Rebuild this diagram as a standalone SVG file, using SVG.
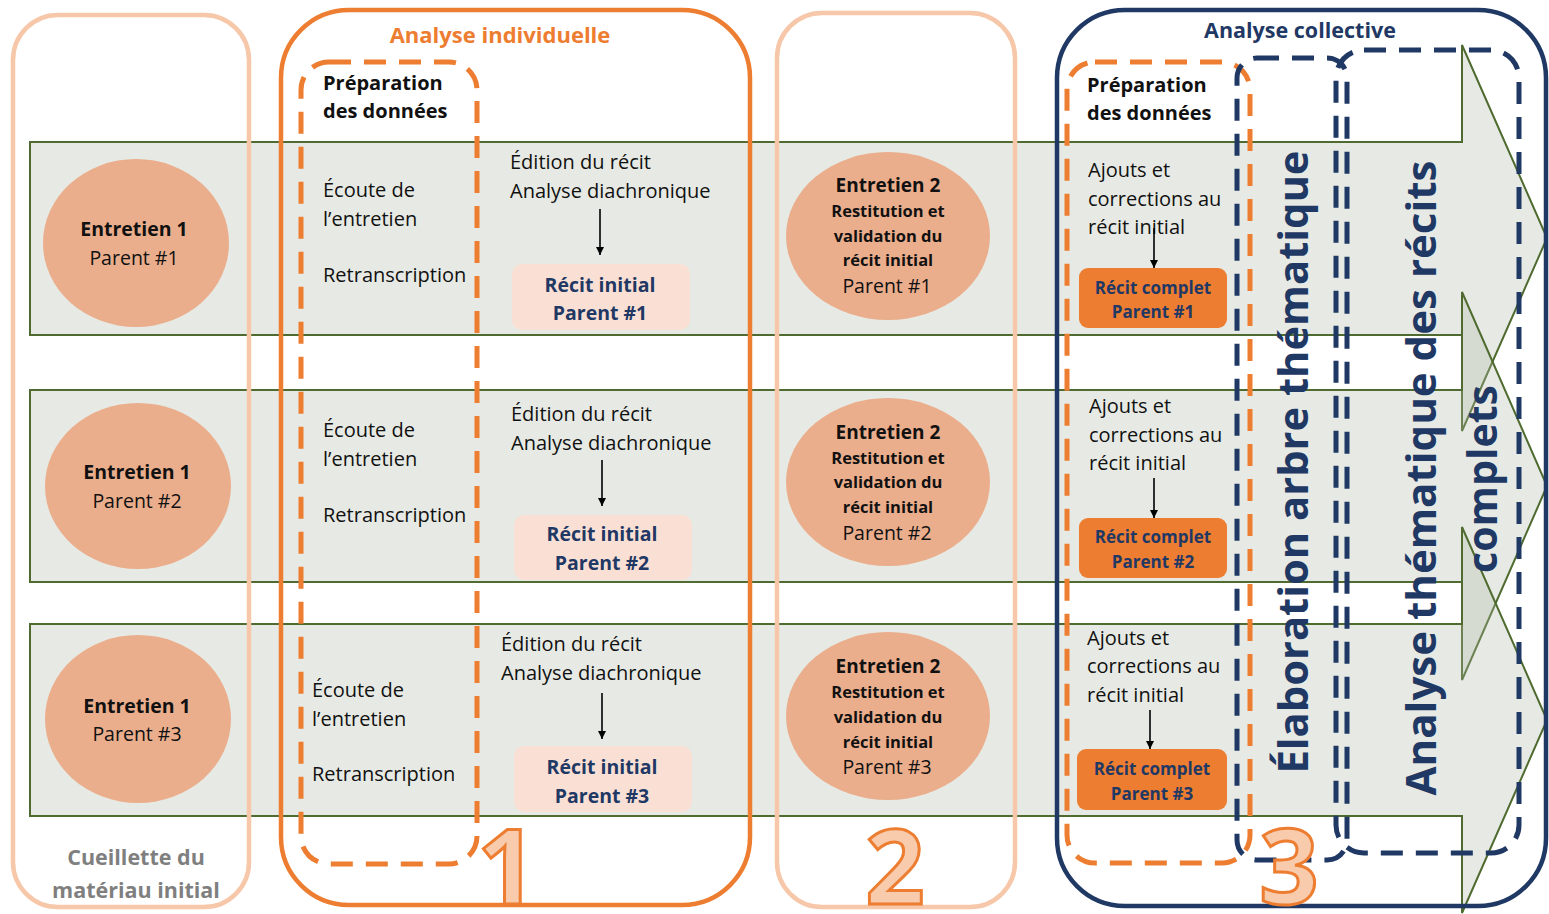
<svg xmlns="http://www.w3.org/2000/svg" width="1549" height="914" viewBox="0 0 1549 914">
<style>
text{font-family:"Open Sans","Liberation Sans",sans-serif}
.band{fill:#b0b8a5;fill-opacity:0.3;stroke:#4f6b30;stroke-width:2}
.colp{fill:none;stroke:#f7c7a9;stroke-width:4.5}
.colo{fill:none;stroke:#ed7d31;stroke-width:4.5}
.coln{fill:none;stroke:#1f3864;stroke-width:4.5}
.dasho{fill:none;stroke:#ed7d31;stroke-width:5;stroke-dasharray:22 13}
.dashn{fill:none;stroke:#1f3864;stroke-width:5;stroke-dasharray:22 13}
.ell{fill:#ebae8c}
.t{font-size:20px;fill:#111}
.b{font-weight:bold}
.e1{font-size:19.5px;text-anchor:middle;fill:#111}
.e2h{font-size:19px;font-weight:bold;text-anchor:middle;fill:#111}
.e2s{font-size:16.5px;font-weight:bold;text-anchor:middle;fill:#111}
.ri{fill:#fae0d4}
.rit{font-size:19.5px;font-weight:bold;text-anchor:middle;fill:#1f3864}
.rc{fill:#ed7d31}
.rct{font-size:17px;font-weight:bold;text-anchor:middle;fill:#1f3864}
.arr{stroke:#000;stroke-width:1.6;marker-end:url(#ah)}
.num{font-size:104px;font-weight:bold;fill:#f8cbad;stroke:#ed7d31;stroke-width:3;text-anchor:middle}
.vt{font-weight:bold;fill:#1f3864;text-anchor:middle}
</style>
<defs>
<marker id="ah" markerWidth="10" markerHeight="10" refX="8" refY="4" orient="auto" markerUnits="userSpaceOnUse">
<path d="M0,0 L8,4 L0,8 z" fill="#000"/>
</marker>
</defs>

<g id="bands">
<path class="band" d="M30,142 H1462 V45 L1547,238 L1462,431 V335 H30 Z"/>
<path class="band" d="M30,390 H1462 V292 L1547,486 L1462,680 V582 H30 Z"/>
<path class="band" d="M30,624 H1462 V527 L1547,720 L1462,913 V816 H30 Z"/>
</g>

<g id="col0">
<rect class="colp" x="13" y="15" width="236" height="892" rx="45"/>
<text class="b" x="136" y="865" font-size="21.5" fill="#7f7f7f" text-anchor="middle">Cueillette du</text>
<text class="b" x="136" y="898" font-size="21.5" fill="#7f7f7f" text-anchor="middle">matériau initial</text>
</g>

<g id="col1">
<rect class="colo" x="281" y="10" width="469" height="895" rx="68"/>
<text class="b" x="500" y="43" font-size="22" fill="#ed7d31" text-anchor="middle">Analyse individuelle</text>
<rect class="dasho" x="301" y="62" width="176" height="802" rx="28"/>
<text class="t b" x="323" y="90" font-size="19.5">Préparation</text>
<text class="t b" x="323" y="118" font-size="19.5">des données</text>
</g>

<g id="col2">
<rect class="colp" x="777" y="13" width="238" height="894" rx="45"/>
</g>

<g id="col3">
<rect class="coln" x="1057" y="10" width="489" height="896" rx="68"/>
<text class="b" x="1300" y="38" font-size="21.5" fill="#1f3864" text-anchor="middle">Analyse collective</text>
<rect class="dasho" x="1067" y="62" width="183" height="801" rx="28"/>
<rect class="dashn" x="1237" y="58" width="110" height="802" rx="20"/>
<rect class="dashn" x="1336" y="50" width="183" height="803" rx="28"/>
<text class="t b" x="1087" y="92" font-size="19.5">Préparation</text>
<text class="t b" x="1087" y="120" font-size="19.5">des données</text>
</g>

<g id="nums">
<text class="num" x="507" y="904">1</text>
<text class="num" x="895" y="904">2</text>
<text class="num" x="1289" y="904">3</text>
</g>

<!-- Row 1 -->
<g id="e1p1">
<ellipse class="ell" cx="136" cy="243" rx="93" ry="84"/>
<text class="e1 b" x="134" y="236">Entretien 1</text>
<text class="e1" x="134" y="265">Parent #1</text>
</g>
<g id="prep1">
<text class="t" x="323" y="197">Écoute de</text>
<text class="t" x="323" y="226">l’entretien</text>
<text class="t" x="323" y="282">Retranscription</text>
</g>
<g id="edit1">
<text class="t" x="510" y="169">Édition du récit</text>
<text class="t" x="510" y="198">Analyse diachronique</text>
</g>
<g id="ri1">
<rect class="ri" x="512" y="264" width="178" height="66" rx="10"/>
<text class="rit" x="600" y="292">Récit initial</text>
<text class="rit" x="600" y="320">Parent #1</text>
</g>
<g id="e2p1">
<ellipse class="ell" cx="888" cy="236" rx="102" ry="84"/>
<text class="e2h" x="888" y="192">Entretien 2</text>
<text class="e2s" x="888" y="217">Restitution et</text>
<text class="e2s" x="888" y="242">validation du</text>
<text class="e2s" x="888" y="266">récit initial</text>
<text class="e1" x="887" y="293">Parent #1</text>
</g>
<g id="aj1">
<text class="t" x="1088" y="177">Ajouts et</text>
<text class="t" x="1088" y="206">corrections au</text>
<text class="t" x="1088" y="234">récit initial</text>
</g>
<g id="rc1">
<rect class="rc" x="1079" y="268" width="148" height="60" rx="9"/>
<text class="rct" x="1153" y="294">Récit complet</text>
<text class="rct" x="1153" y="318">Parent #1</text>
</g>

<!-- Row 2 -->
<g id="e1p2">
<ellipse class="ell" cx="138" cy="486" rx="93" ry="83"/>
<text class="e1 b" x="137" y="479">Entretien 1</text>
<text class="e1" x="137" y="508">Parent #2</text>
</g>
<g id="prep2">
<text class="t" x="323" y="437">Écoute de</text>
<text class="t" x="323" y="466">l’entretien</text>
<text class="t" x="323" y="522">Retranscription</text>
</g>
<g id="edit2">
<text class="t" x="511" y="421">Édition du récit</text>
<text class="t" x="511" y="450">Analyse diachronique</text>
</g>
<g id="ri2">
<rect class="ri" x="514" y="515" width="178" height="65" rx="10"/>
<text class="rit" x="602" y="541">Récit initial</text>
<text class="rit" x="602" y="570">Parent #2</text>
</g>
<g id="e2p2">
<ellipse class="ell" cx="888" cy="482" rx="102" ry="84"/>
<text class="e2h" x="888" y="439">Entretien 2</text>
<text class="e2s" x="888" y="464">Restitution et</text>
<text class="e2s" x="888" y="488">validation du</text>
<text class="e2s" x="888" y="513">récit initial</text>
<text class="e1" x="887" y="540">Parent #2</text>
</g>
<g id="aj2">
<text class="t" x="1089" y="413">Ajouts et</text>
<text class="t" x="1089" y="442">corrections au</text>
<text class="t" x="1089" y="470">récit initial</text>
</g>
<g id="rc2">
<rect class="rc" x="1079" y="518" width="148" height="60" rx="9"/>
<text class="rct" x="1153" y="543">Récit complet</text>
<text class="rct" x="1153" y="568">Parent #2</text>
</g>

<!-- Row 3 -->
<g id="e1p3">
<ellipse class="ell" cx="138" cy="719" rx="93" ry="84"/>
<text class="e1 b" x="137" y="713">Entretien 1</text>
<text class="e1" x="137" y="741">Parent #3</text>
</g>
<g id="prep3">
<text class="t" x="312" y="697">Écoute de</text>
<text class="t" x="312" y="726">l’entretien</text>
<text class="t" x="312" y="781">Retranscription</text>
</g>
<g id="edit3">
<text class="t" x="501" y="651">Édition du récit</text>
<text class="t" x="501" y="680">Analyse diachronique</text>
</g>
<g id="ri3">
<rect class="ri" x="514" y="746" width="178" height="66" rx="10"/>
<text class="rit" x="602" y="774">Récit initial</text>
<text class="rit" x="602" y="803">Parent #3</text>
</g>
<g id="e2p3">
<ellipse class="ell" cx="888" cy="716" rx="102" ry="84"/>
<text class="e2h" x="888" y="673">Entretien 2</text>
<text class="e2s" x="888" y="698">Restitution et</text>
<text class="e2s" x="888" y="723">validation du</text>
<text class="e2s" x="888" y="748">récit initial</text>
<text class="e1" x="887" y="774">Parent #3</text>
</g>
<g id="aj3">
<text class="t" x="1087" y="645">Ajouts et</text>
<text class="t" x="1087" y="673">corrections au</text>
<text class="t" x="1087" y="702">récit initial</text>
</g>
<g id="rc3">
<rect class="rc" x="1077" y="749" width="150" height="61" rx="9"/>
<text class="rct" x="1152" y="775">Récit complet</text>
<text class="rct" x="1152" y="800">Parent #3</text>
</g>

<g id="vertical">
<text class="vt" font-size="42" transform="translate(1308,462) rotate(-90)" textLength="623" lengthAdjust="spacingAndGlyphs">Élaboration arbre thématique</text>
<text class="vt" font-size="41" transform="translate(1436,478) rotate(-90)" textLength="635" lengthAdjust="spacingAndGlyphs">Analyse thématique des récits</text>
<text class="vt" font-size="41" transform="translate(1497,479) rotate(-90)" textLength="188" lengthAdjust="spacingAndGlyphs">complets</text>
</g>

<g id="connectors">
<line class="arr" x1="600" y1="209" x2="600" y2="255"/>
<line class="arr" x1="602" y1="460" x2="602" y2="506"/>
<line class="arr" x1="602" y1="693" x2="602" y2="739"/>
<line class="arr" x1="1154" y1="228" x2="1154" y2="268"/>
<line class="arr" x1="1154" y1="478" x2="1154" y2="518"/>
<line class="arr" x1="1150" y1="710" x2="1150" y2="749"/>
</g>
</svg>
